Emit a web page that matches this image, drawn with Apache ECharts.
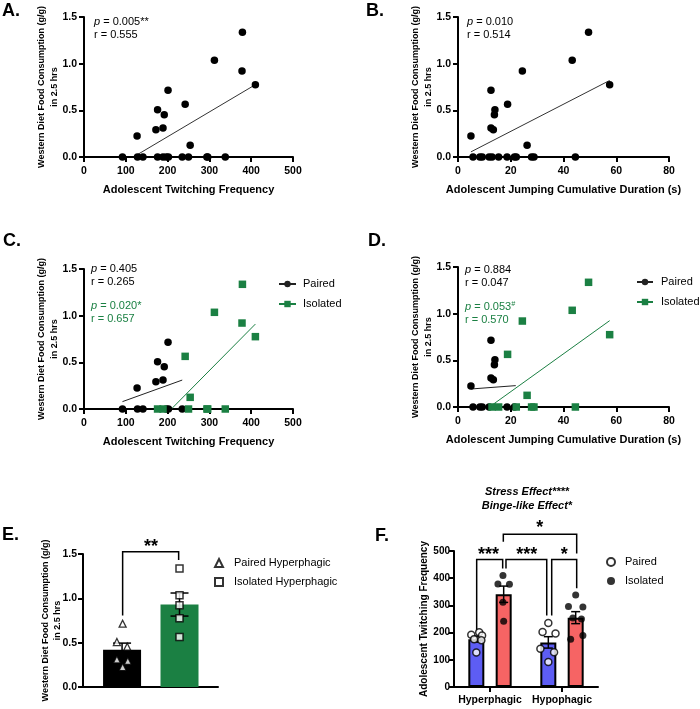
<!DOCTYPE html>
<html><head><meta charset="utf-8">
<script src="https://cdn.jsdelivr.net/npm/echarts@6/dist/echarts.min.js"></script>
<style>html,body{margin:0;padding:0;background:#fff}#chart{width:700px;height:709px}</style>
</head><body><div id="chart"></div>
<script>
// ---------------- DATA ----------------
// Panels A & C: twitching frequency vs western diet consumption
const pairedTwitch = [92,127,128,141,172,176,189,192,197,201,202,235];
const pairedTwitchFood = [0,0.225,0,0,0.293,0.507,0.31,0.454,0,0.714,0,0];
const isolatedTwitch = [176,189,242,250,254,294,296,312,338,378,379,410];
const isolatedTwitchFood = [0,0,0.564,0,0.125,0,0,1.036,0,0.921,1.336,0.775];
// Panels B & D: jumping duration vs western diet consumption
const pairedJump = [4.9,5.7,8.3,9.2,11.8,12.5,12.5,13.4,13.8,14.0,18.6,21.4];
const pairedJumpFood = [0.225,0,0,0,0,0.714,0.31,0.293,0.454,0.507,0,0];
const isolatedJump = [12.9,15.4,18.8,22.1,24.4,26.2,27.9,28.8,43.3,44.5,49.5,57.5];
const isolatedJumpFood = [0,0,0.564,0,0.921,0.125,0,0,1.036,0,1.336,0.775];
// regression line end points
const fitA = [[120,0.005],[410,0.775]];
const fitB = [[4.9,0.055],[57.5,0.82]];
const fitCPaired = [[92,0.079],[235,0.31]];
const fitCIsolated = [[209,0],[410,0.91]];
const fitDPaired = [[4.9,0.193],[21.9,0.229]];
const fitDIsolated = [[12.9,0.02],[57.5,0.925]];
// stats text
const statA = ['0.005**','0.555'];
const statB = ['0.010','0.514'];
const statCPaired = ['0.405','0.265'];
const statCIsolated = ['0.020*','0.657'];
const statDPaired = ['0.884','0.047'];
const statDIsolated = ['0.053','0.570'];
// Panel E
const eNames = ['Paired Hyperphagic','Isolated Hyperphagic'];
const eMeans = [0.42, 0.93];
const eSem = [0.075, 0.13];
const ePaired = [0.714,0.507,0.454,0.31,0.293,0.225];
const ePairedJitter = [0.01,-0.09,0.09,-0.09,0.10,0.01];
const eIsolated = [1.336,1.036,0.921,0.775,0.564];
const eSig = '**';
// Panel F
const fCategories = ['Hyperphagic','Hypophagic'];
const fPairedMeans = [176,164];
const fIsolatedMeans = [341,255];
const fPairedSem = [11,21];
const fIsolatedSem = [30,22];
const fHyperPaired = [201,192,189,176,172,127];
const fHyperPairedJit = [0.04,-0.07,0.08,-0.03,0.07,0];
const fHyperIsolated = [410,379,378,312,242];
const fHyperIsolatedJit = [-0.01,-0.08,0.08,-0.01,0];
const fHypoPaired = [235,202,197,141,128,92];
const fHypoPairedJit = [0,-0.08,0.1,-0.11,0.08,0];
const fHypoIsolated = [338,296,294,254,250,189,176];
const fHypoIsolatedJit = [0,-0.1,0.1,-0.04,0.08,0.1,-0.07];
const fSigText = ['***','***','*','*'];
const fTitle = ['Stress Effect****','Binge-like Effect*'];

// ---------------- STYLE / LAYOUT ----------------
const FONT = '"Liberation Sans", Arial, Helvetica, sans-serif';
const GREEN = '#1b8043';
const BLUE = '#5d5df4';
const RED = '#f66464';
const BAR_OFF = 0.19;
const YTITLE_FOOD = 'Western Diet Food Consumption (g/g)\nin 2.5 hrs';

const zip = (xs, ys) => xs.map((x, i) => [x, ys[i]]);

function valueAxis(o) {
  return {
    type: 'value', gridIndex: o.grid, min: o.min, max: o.max, interval: o.interval,
    name: o.name || '', nameLocation: 'middle', nameGap: o.nameGap || 0, nameRotate: o.rotate || 0,
    nameMoveOverlap: false,
    nameTextStyle: {fontFamily: FONT, fontWeight: 'bold', fontSize: o.nameSize || 11, lineHeight: o.nameLH || 13, color: '#000'},
    axisLine: {show: true, onZero: false, lineStyle: {color: '#000', width: 2}},
    axisTick: {show: o.ticks !== false, length: 5, lineStyle: {color: '#000', width: 2}},
    axisLabel: {show: o.labels !== false, margin: o.margin || 8, formatter: o.fmt, fontFamily: FONT, fontWeight: 'bold', fontSize: o.labelSize || 10.5, color: '#000'},
    splitLine: {show: false}
  };
}
const fmt1 = v => v.toFixed(1);

const grids = [
  {left: 84, top: 17, width: 209, height: 140},
  {left: 458, top: 17, width: 211, height: 140},
  {left: 84, top: 269, width: 209, height: 140},
  {left: 458, top: 267, width: 211, height: 140},
  {left: 83, top: 554, width: 135, height: 133},
  {left: 454, top: 551, width: 144, height: 136}
].map(g => Object.assign({containLabel: false, outerBoundsMode: 'none'}, g));

const xAxes = [
  valueAxis({grid: 0, min: 0, max: 500, interval: 100, name: 'Adolescent Twitching Frequency', nameGap: 26, margin: 9}),
  valueAxis({grid: 1, min: 0, max: 80, interval: 20, name: 'Adolescent Jumping Cumulative Duration (s)', nameGap: 26, margin: 9}),
  valueAxis({grid: 2, min: 0, max: 500, interval: 100, name: 'Adolescent Twitching Frequency', nameGap: 26, margin: 9}),
  valueAxis({grid: 3, min: 0, max: 80, interval: 20, name: 'Adolescent Jumping Cumulative Duration (s)', nameGap: 26, margin: 9}),
  valueAxis({grid: 4, min: -0.68, max: 1.67, ticks: false, labels: false}),
  {type: 'category', gridIndex: 5, data: fCategories,
   axisLine: {show: true, onZero: false, lineStyle: {color: '#000', width: 2}},
   axisTick: {show: true, alignWithLabel: true, interval: 0, length: 5, lineStyle: {color: '#000', width: 2}},
   axisLabel: {interval: 0, hideOverlap: false, margin: 8, fontFamily: FONT, fontWeight: 'bold', fontSize: 10.5, color: '#000'},
   splitLine: {show: false}},
  {type: 'value', gridIndex: 5, min: -0.5, max: 1.5, show: false}
];
const yAxes = [0, 1, 2, 3].map(g => valueAxis({grid: g, min: 0, max: 1.5, interval: 0.5, fmt: fmt1,
  name: YTITLE_FOOD, rotate: 90, nameGap: 23, nameSize: 9, nameLH: 13, margin: 7}));
yAxes.push(valueAxis({grid: 4, min: 0, max: 1.5, interval: 0.5, fmt: fmt1, name: YTITLE_FOOD, rotate: 90, nameGap: 19, nameSize: 9, nameLH: 12.5, margin: 6}));
yAxes.push(valueAxis({grid: 5, min: 0, max: 500, interval: 100, name: 'Adolescent Twitching Frequency', rotate: 90, nameGap: 23, nameSize: 10, margin: 4, labelSize: 10}));

function scatter(name, xi, data, symbol, color, extra) {
  return Object.assign({type: 'scatter', name, xAxisIndex: xi, yAxisIndex: xi, data, symbol, symbolSize: 7.5,
    clip: false, itemStyle: {color, opacity: 1}, z: 5, emphasis: {disabled: true}}, extra || {});
}
function fitLine(name, xi, data, color, symbol) {
  return {type: 'line', name, xAxisIndex: xi, yAxisIndex: xi, data, symbol: symbol || 'none', symbolSize: 7,
    showSymbol: false, clip: false, lineStyle: {color, width: 1}, itemStyle: {color}, z: 4, silent: true};
}

function errRender(cap) {
  return function (params, api) {
    const x = api.value(0), m = api.value(1), s = api.value(2);
    const t = api.coord([x, m + s]), b = api.coord([x, m - s]);
    const st = {stroke: '#000', lineWidth: 1.5};
    return {type: 'group', children: [
      {type: 'line', shape: {x1: t[0], y1: t[1], x2: b[0], y2: b[1]}, style: st},
      {type: 'line', shape: {x1: t[0] - cap, y1: t[1], x2: t[0] + cap, y2: t[1]}, style: st},
      {type: 'line', shape: {x1: b[0] - cap, y1: b[1], x2: b[0] + cap, y2: b[1]}, style: st}
    ]};
  };
}
function bracketRender(params, api) {
  const x1 = api.value(0), x2 = api.value(1), yt = api.value(2), yl = api.value(3), yr = api.value(4);
  const pts = [api.coord([x1, yl]), api.coord([x1, yt]), api.coord([x2, yt]), api.coord([x2, yr])];
  return {type: 'polyline', shape: {points: pts}, style: {stroke: '#000', fill: null, lineWidth: 1.5}};
}
function sigRender(labels) {
  return function (params, api) {
    const p = api.coord([api.value(0), api.value(1)]);
    return {type: 'text', x: p[0], y: p[1] + 4, style: {text: labels[params.dataIndex], fill: '#000',
      font: 'bold 18px ' + FONT, textAlign: 'center', align: 'center', textVerticalAlign: 'middle', verticalAlign: 'middle'}};
  };
}

// E: brackets / positions (data coordinates)
const eBracket = [[0.01, 0.985, 1.526, 0.806, 1.4325]];
const eSigPos = [[0.504, 1.62]];
// F: brackets [x1, x2, yTop, yLeftEnd, yRightEnd]
const fBrackets = [[-0.185, 0.176, 469, 204, 436], [0.222, 0.788, 469, 436, 263], [0.857, 1.204, 469, 263, 363], [0.185, 1.204, 562, 534, 491]];
const fSigPos = [[-0.02, 500], [0.51, 500], [1.03, 500], [0.69, 599]];

const series = [
  // A
  scatter('A pts', 0, zip(pairedTwitch, pairedTwitchFood).concat(zip(isolatedTwitch, isolatedTwitchFood)), 'circle', '#000'),
  fitLine('A fit', 0, fitA, '#333'),
  // B
  scatter('B pts', 1, zip(pairedJump, pairedJumpFood).concat(zip(isolatedJump, isolatedJumpFood)), 'circle', '#000'),
  fitLine('B fit', 1, fitB, '#333'),
  // C
  scatter('C paired', 2, zip(pairedTwitch, pairedTwitchFood), 'circle', '#000'),
  scatter('C isolated', 2, zip(isolatedTwitch, isolatedTwitchFood), 'rect', GREEN),
  fitLine('Paired C', 2, fitCPaired, '#222', 'circle'),
  fitLine('Isolated C', 2, fitCIsolated, GREEN, 'rect'),
  // D
  scatter('D paired', 3, zip(pairedJump, pairedJumpFood), 'circle', '#000'),
  scatter('D isolated', 3, zip(isolatedJump, isolatedJumpFood), 'rect', GREEN),
  fitLine('Paired D', 3, fitDPaired, '#222', 'circle'),
  fitLine('Isolated D', 3, fitDIsolated, GREEN, 'rect'),
  // E
  {type: 'bar', name: 'E bars', xAxisIndex: 4, yAxisIndex: 4, barWidth: 38, silent: true, z: 2,
   data: [{value: [0, eMeans[0]], itemStyle: {color: '#000'}}, {value: [1, eMeans[1]], itemStyle: {color: GREEN}}]},
  {type: 'custom', name: 'E err', xAxisIndex: 4, yAxisIndex: 4, z: 3, silent: true,
   data: [[0, eMeans[0], eSem[0]], [1, eMeans[1], eSem[1]]], renderItem: errRender(9)},
  scatter('Paired Hyperphagic', 4, ePaired.map((v, i) => [ePairedJitter[i], v]), 'triangle', '#fff',
    {symbolSize: 7, itemStyle: {color: '#fff', borderColor: '#000', borderWidth: 1.3}}),
  scatter('Isolated Hyperphagic', 4, eIsolated.map(v => [1, v]), 'rect', '#fff',
    {symbolSize: 7, itemStyle: {color: '#fff', borderColor: '#000', borderWidth: 1.5}}),
  {type: 'custom', name: 'E br', xAxisIndex: 4, yAxisIndex: 4, z: 3, silent: true, data: eBracket, renderItem: bracketRender},
  {type: 'custom', name: 'E sig', xAxisIndex: 4, yAxisIndex: 4, z: 3, silent: true, data: eSigPos, renderItem: sigRender([eSig])},
  // F
  {type: 'bar', name: 'F bars', xAxisIndex: 6, yAxisIndex: 5, barWidth: 16, silent: true, z: 2,
   itemStyle: {borderColor: '#000', borderWidth: 2},
   data: [
     {value: [-BAR_OFF, fPairedMeans[0]], itemStyle: {color: BLUE}},
     {value: [BAR_OFF, fIsolatedMeans[0]], itemStyle: {color: RED}},
     {value: [1 - BAR_OFF, fPairedMeans[1]], itemStyle: {color: BLUE}},
     {value: [1 + BAR_OFF, fIsolatedMeans[1]], itemStyle: {color: RED}}]},
  {type: 'custom', name: 'F err', xAxisIndex: 6, yAxisIndex: 5, z: 3, silent: true, renderItem: errRender(4.5),
   data: [[-BAR_OFF, fPairedMeans[0], fPairedSem[0]], [BAR_OFF, fIsolatedMeans[0], fIsolatedSem[0]],
          [1 - BAR_OFF, fPairedMeans[1], fPairedSem[1]], [1 + BAR_OFF, fIsolatedMeans[1], fIsolatedSem[1]]]},
  {type: 'scatter', name: 'Paired F', xAxisIndex: 6, yAxisIndex: 5, symbol: 'circle', symbolSize: 7, clip: false, z: 5,
   itemStyle: {color: '#fff', borderColor: '#000', borderWidth: 1.5},
   data: fHyperPaired.map((v, i) => [-BAR_OFF + fHyperPairedJit[i], v]).concat(fHypoPaired.map((v, i) => [1 - BAR_OFF + fHypoPairedJit[i], v]))},
  {type: 'scatter', name: 'Isolated F', xAxisIndex: 6, yAxisIndex: 5, symbol: 'circle', symbolSize: 7, clip: false, z: 5,
   itemStyle: {color: '#000'},
   data: fHyperIsolated.map((v, i) => [BAR_OFF + fHyperIsolatedJit[i], v]).concat(fHypoIsolated.map((v, i) => [1 + BAR_OFF + fHypoIsolatedJit[i], v]))},
  {type: 'custom', name: 'F br', xAxisIndex: 6, yAxisIndex: 5, z: 3, silent: true, data: fBrackets, renderItem: bracketRender},
  {type: 'custom', name: 'F sig', xAxisIndex: 6, yAxisIndex: 5, z: 3, silent: true, data: fSigPos, renderItem: sigRender(fSigText)}
];

const stripName = n => n.replace(/ [CDF]$/, '');
function legend(left, top, names, itemWidth, textPad) {
  return {left, top, orient: 'vertical', padding: 0, itemGap: 6, itemWidth, itemHeight: 8, selectedMode: false,
    data: names, formatter: stripName,
    textStyle: {fontFamily: FONT, fontSize: 11, color: '#000', lineHeight: 14, padding: [0, 0, 0, textPad]}};
}
const legends = [
  legend(278, 277, ['Paired C', 'Isolated C'], 17, 2),
  legend(636, 275, ['Paired D', 'Isolated D'], 16, 3),
  Object.assign(legend(214, 556, eNames, 8, 6), {itemGap: 5}),
  Object.assign(legend(606, 555, ['Paired F', 'Isolated F'], 8, 5), {itemGap: 5})
];

function stat(x, y, pval, r, color, sup) {
  const rich = {i: {fontStyle: 'italic', fontFamily: FONT, fontSize: 11, fill: color, color: color},
                s: {fontFamily: FONT, fontSize: 7, fontStyle: 'italic', fill: color, color: color, padding: [0, 0, 5, 0]}};
  const base = {fontFamily: FONT, fontSize: 11, fill: color, textAlign: 'left', align: 'left', textVerticalAlign: 'middle', verticalAlign: 'middle'};
  return [
    {type: 'text', x, y, style: Object.assign({text: '{i|p} = ' + pval + (sup ? '{s|' + sup + '}' : ''), rich}, base)},
    {type: 'text', x, y: y + 12.5, style: Object.assign({text: 'r = ' + r}, base)}
  ];
}
function panelLabel(x, y, t) {
  return {type: 'text', x, y, style: {text: t, fontFamily: FONT, fontWeight: 'bold', fontSize: 18, fill: '#000',
    textAlign: 'left', align: 'left', textVerticalAlign: 'middle', verticalAlign: 'middle'}};
}
const graphics = [
  panelLabel(2, 11, 'A.'), panelLabel(366, 11, 'B.'), panelLabel(3, 241, 'C.'),
  panelLabel(368, 241, 'D.'), panelLabel(2, 535, 'E.'), panelLabel(375, 536, 'F.'),
  ...stat(94, 22, statA[0], statA[1], '#000'),
  ...stat(467, 22, statB[0], statB[1], '#000'),
  ...stat(91, 269, statCPaired[0], statCPaired[1], '#000'),
  ...stat(91, 306, statCIsolated[0], statCIsolated[1], GREEN),
  ...stat(465, 270, statDPaired[0], statDPaired[1], '#000'),
  ...stat(465, 307, statDIsolated[0], statDIsolated[1], GREEN, '#'),
  {type: 'text', x: 527, y: 492, style: {text: fTitle[0], fontFamily: FONT, fontWeight: 'bold', fontStyle: 'italic', fontSize: 11, fill: '#000',
    textAlign: 'center', align: 'center', textVerticalAlign: 'middle', verticalAlign: 'middle'}},
  {type: 'text', x: 527, y: 506, style: {text: fTitle[1], fontFamily: FONT, fontWeight: 'bold', fontStyle: 'italic', fontSize: 11, fill: '#000',
    textAlign: 'center', align: 'center', textVerticalAlign: 'middle', verticalAlign: 'middle'}}
];

const chart = echarts.init(document.getElementById('chart'), null, {renderer: 'canvas', width: 700, height: 709});
chart.setOption({
  animation: false,
  backgroundColor: '#fff',
  grid: grids, xAxis: xAxes, yAxis: yAxes,
  legend: legends, series, graphic: graphics
});
</script>
</body></html>
